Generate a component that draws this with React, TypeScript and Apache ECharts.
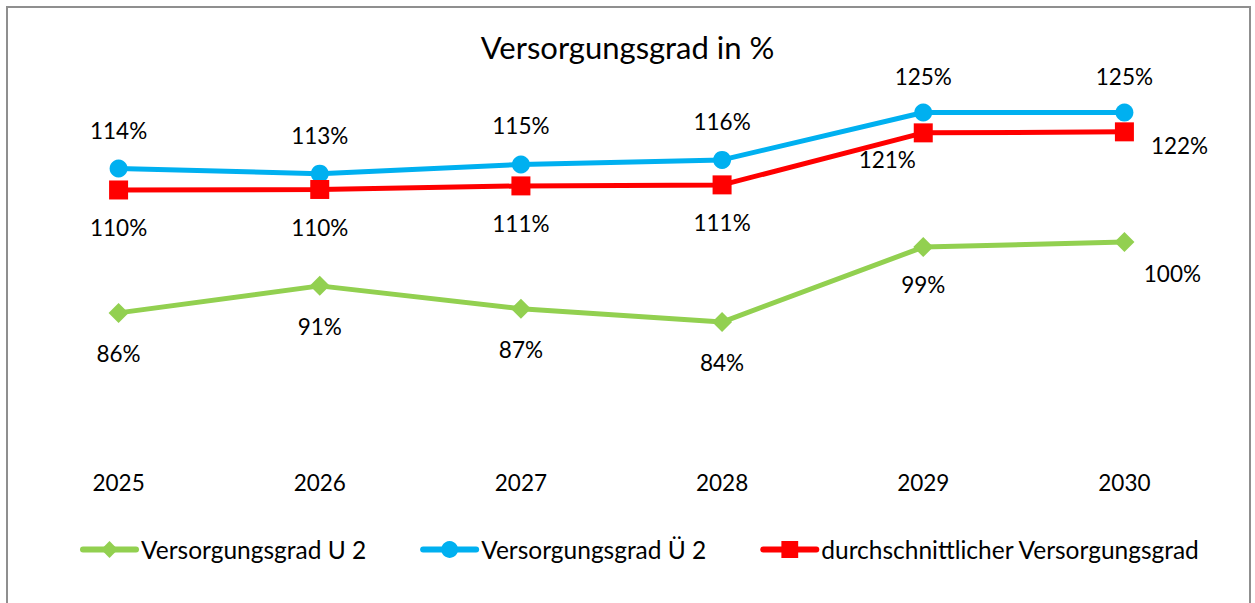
import React, { useEffect, useRef } from "react";
import * as echarts from "echarts";

const categories = ["2025", "2026", "2027", "2028", "2029", "2030"];
const seriesNames = ["Versorgungsgrad U 2", "Versorgungsgrad Ü 2", "durchschnittlicher Versorgungsgrad"];
const greenValues = [86.1, 91.4, 86.9, 84.3, 99.0, 100.0];
const blueValues = [114.4, 113.4, 115.2, 116.1, 125.4, 125.4];
const redValues = [110.2, 110.3, 111.0, 111.2, 121.4, 121.6];

const FONT = "Lato, 'Open Sans', sans-serif";
const COLORS = ["#92D050", "#00B0F0", "#FF0000"];

export default function App() {
  const ref = useRef<HTMLDivElement>(null);
  useEffect(() => {
    if (!ref.current) return;
    const chart = echarts.init(ref.current, undefined, { renderer: "svg" });
    const fmt = (p: any) => Math.round(p.value) + "%";
    const baseLabel = { show: true, formatter: fmt, fontSize: 22.5, color: "#000", fontFamily: FONT };

    const greenData = greenValues.map((v, i) => {
      if (i === 4) return { value: v, label: { position: "bottom", offset: [0, -3] } };
      if (i === 5) return { value: v, label: { position: "bottom", offset: [48, -9] } };
      return { value: v };
    });
    const blueData = blueValues.map((v, i) => {
      if (i >= 4) return { value: v, label: { position: "top", offset: [0, 3] } };
      return { value: v };
    });
    const redData = redValues.map((v, i) => {
      if (i === 4) return { value: v, label: { position: "bottom", offset: [-36, -11] } };
      if (i === 5) return { value: v, label: { position: "right", offset: [0, 14] } };
      return { value: v };
    });

    chart.setOption({
      animation: false,
      backgroundColor: "#fff",
      title: {
        text: "Versorgungsgrad in %",
        left: "center",
        top: 26,
        textStyle: { fontFamily: FONT, fontSize: 31, fontWeight: "normal", color: "#000" },
      },
      grid: { left: 18, right: 30, top: 89, height: 357 },
      xAxis: {
        type: "category",
        data: categories,
        boundaryGap: true,
        axisLine: { show: false },
        axisTick: { show: false },
        axisLabel: { fontFamily: FONT, fontSize: 22.5, color: "#000", margin: 25 },
      },
      yAxis: {
        type: "value",
        min: 60,
        max: 130,
        show: false,
        splitLine: { show: false },
      },
      legend: {
        bottom: 36,
        left: 75,
        itemWidth: 53,
        itemHeight: 21,
        itemGap: 54,
        lineStyle: { width: 6, cap: "round" },
        textStyle: { fontFamily: FONT, fontSize: 24.5, color: "#000" },
        data: seriesNames.map((n, i) => ({
          name: n,
          lineStyle: { width: 6, color: COLORS[i], cap: "round" },
        })),
      },
      graphic: [
        {
          type: "rect",
          shape: { x: 7, y: 7, width: 1243, height: 620 },
          style: { fill: "none", stroke: "#8f8f8f", lineWidth: 2 },
          silent: true,
        },
      ],
      series: [
        {
          name: seriesNames[0],
          type: "line",
          data: greenData,
          symbol: "diamond",
          symbolSize: 20,
          lineStyle: { color: COLORS[0], width: 5 },
          itemStyle: { color: COLORS[0] },
          label: { ...baseLabel, position: "bottom", distance: 19 },
          z: 2,
        },
        {
          name: seriesNames[1],
          type: "line",
          data: blueData,
          symbol: "circle",
          symbolSize: 18,
          lineStyle: { color: COLORS[1], width: 5 },
          itemStyle: { color: COLORS[1] },
          label: { ...baseLabel, position: "top", distance: 18 },
          z: 3,
        },
        {
          name: seriesNames[2],
          type: "line",
          data: redData,
          symbol: "rect",
          symbolSize: 19,
          lineStyle: { color: COLORS[2], width: 5 },
          itemStyle: { color: COLORS[2] },
          label: { ...baseLabel, position: "bottom", distance: 17 },
          z: 4,
        },
      ],
    });
    return () => chart.dispose();
  }, []);
  return (
    <div
      ref={ref}
      style={{ position: "fixed", left: 0, top: 0, width: 1255, height: 603 }}
    />
  );
}
